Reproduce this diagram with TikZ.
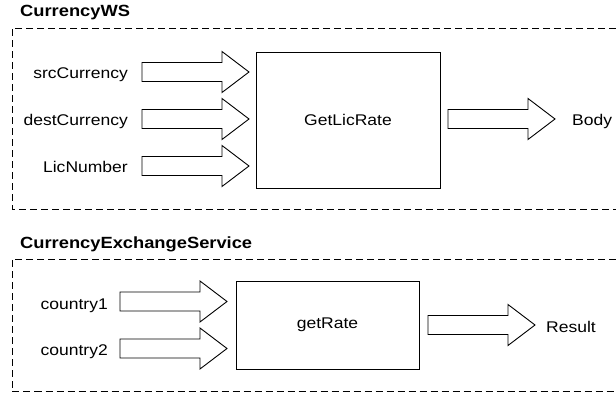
\documentclass[tikz,border=0pt]{standalone}
\usepackage{fontspec}
\setmainfont[FakeStretch=1.13]{Liberation Sans}

\tikzset{pics/fatarrow/.style={code={
  \draw[line width=0.9pt] (0,-9.5) -- (80,-9.5) -- (80,-20.5) -- (107,0) -- (80,20.5) -- (80,9.5) -- (0,9.5) -- cycle;}}}

\begin{document}
\begin{tikzpicture}[x=1pt,y=-1pt,
  frame/.style={dash pattern=on 7pt off 4pt, line width=0.8pt},
  op/.style={draw, line width=0.9pt, inner sep=0pt, font=\fontsize{15.5}{18}\selectfont},
  lbl/.style={inner sep=0pt, font=\fontsize{15.5}{18}\selectfont},
  ttl/.style={inner sep=0pt, font=\fontsize{16.2}{18}\selectfont\bfseries}]
\useasboundingbox (0,0) rectangle (616,393);
\node[ttl, anchor=base west] (ws) at (20,16.5) {CurrencyWS};
\draw[frame] (616,28.5) -- (12,28.5) -- (12,209.5) -- (616,209.5);
\node[lbl, anchor=base east] (src) at (128,79) {srcCurrency};
\node[lbl, anchor=base east] (dst) at (128,126) {destCurrency};
\node[lbl, anchor=base east] (lic) at (128,173) {LicNumber};
\pic (a1) at (142,72) {fatarrow};
\pic (a2) at (142,119) {fatarrow};
\pic (a3) at (142,166) {fatarrow};
\node[op, minimum width=184pt, minimum height=136pt] (glr) at (348,120) {GetLicRate};
\pic (a4) at (448,119) {fatarrow};
\node[lbl, anchor=base west] (body) at (572,126) {Body};
\node[ttl, anchor=base west] (ces) at (20,248) {CurrencyExchangeService};
\draw[frame] (616,259) -- (12,259) -- (12,391.5) -- (616,391.5);
\node[lbl, anchor=base east] (c1) at (108,309) {country1};
\node[lbl, anchor=base east] (c2) at (108,355.5) {country2};
\pic (b1) at (120,301.5) {fatarrow};
\pic (b2) at (120,348.5) {fatarrow};
\node[op, minimum width=183pt, minimum height=88pt] (gr) at (327.5,325) {getRate};
\pic (b3) at (428,325) {fatarrow};
\node[lbl, anchor=base west] (res) at (546,332) {Result};
\end{tikzpicture}
\end{document}
